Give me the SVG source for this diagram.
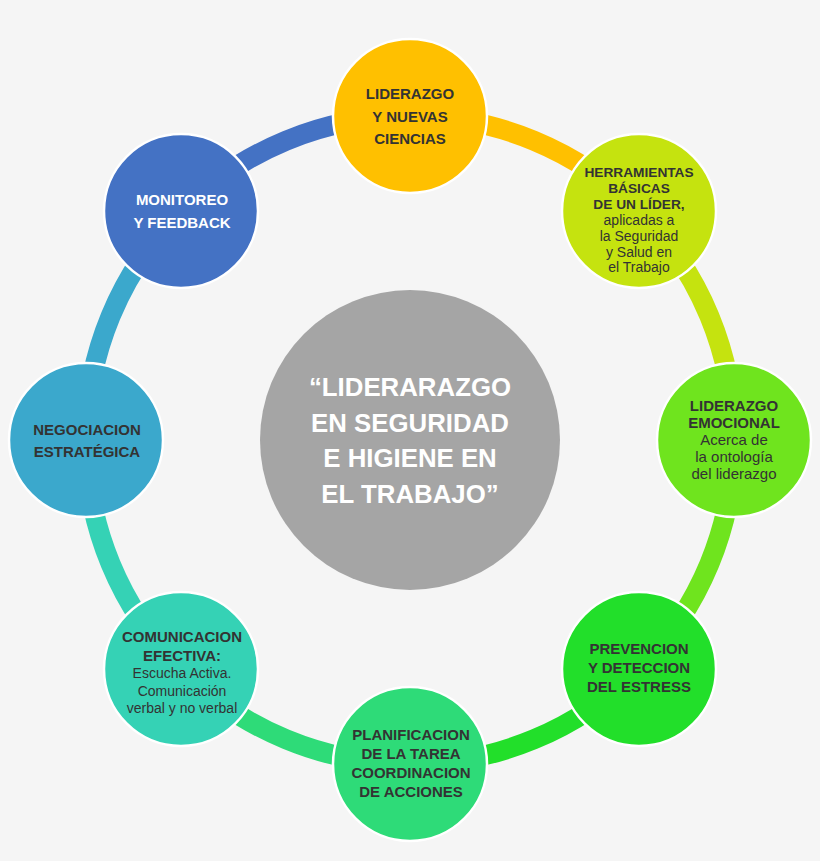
<svg xmlns="http://www.w3.org/2000/svg" width="820" height="861" viewBox="0 0 820 861">
<style>
.arc{fill:none;stroke-width:20;stroke-linecap:butt}
.node{stroke:#ffffff;stroke-width:2.5}
text{font-family:"Liberation Sans",Arial,sans-serif;text-anchor:middle;fill:#333333}
.b{font-weight:bold;font-size:15px}
.b13{font-weight:bold;font-size:13.7px}
.r{font-size:14px}
.r15{font-size:15px}
.w{fill:#ffffff}
.ctr{font-weight:bold;font-size:25.8px;fill:#ffffff}
</style>
<rect x="0" y="0" width="820" height="861" fill="#f5f5f5"/>
<g id="connectors">
<path class="arc" stroke="#ffc000" d="M410,116 A324,324 0 0 1 639.1,210.9"/>
<path class="arc" stroke="#c5e30f" d="M639.1,210.9 A324,324 0 0 1 734,440"/>
<path class="arc" stroke="#6fe41e" d="M734,440 A324,324 0 0 1 639.1,669.1"/>
<path class="arc" stroke="#22df2a" d="M639.1,669.1 A324,324 0 0 1 410,764"/>
<path class="arc" stroke="#2edb78" d="M410,764 A324,324 0 0 1 180.9,669.1"/>
<path class="arc" stroke="#35d2b5" d="M180.9,669.1 A324,324 0 0 1 86,440"/>
<path class="arc" stroke="#3ba8cc" d="M86,440 A324,324 0 0 1 180.9,210.9"/>
<path class="arc" stroke="#4472c4" d="M180.9,210.9 A324,324 0 0 1 410,116"/>
</g>
<g id="center">
<circle cx="410" cy="440" r="150" fill="#a5a5a5"/>
<text class="ctr" x="410" y="396">“LIDERARAZGO</text>
<text class="ctr" x="410" y="432">EN SEGURIDAD</text>
<text class="ctr" x="410" y="467">E HIGIENE EN</text>
<text class="ctr" x="410" y="503">EL TRABAJO”</text>
</g>
<g id="n1">
<circle class="node" cx="410" cy="116" r="77" fill="#ffc000"/>
<text class="b" x="410" y="99">LIDERAZGO</text>
<text class="b" x="410" y="122">Y NUEVAS</text>
<text class="b" x="410" y="144">CIENCIAS</text>
</g>
<g id="n2">
<circle class="node" cx="639" cy="211" r="77" fill="#c5e30f"/>
<text class="b13" x="639" y="177">HERRAMIENTAS</text>
<text class="b13" x="639" y="193">BÁSICAS</text>
<text class="b13" x="639" y="209">DE UN LÍDER,</text>
<text class="r" x="639" y="225">aplicadas a</text>
<text class="r" x="639" y="241">la Seguridad</text>
<text class="r" x="639" y="257">y Salud en</text>
<text class="r" x="639" y="272">el Trabajo</text>
</g>
<g id="n3">
<circle class="node" cx="734" cy="440" r="77" fill="#6fe41e"/>
<text class="b" x="734" y="411">LIDERAZGO</text>
<text class="b" x="734" y="428">EMOCIONAL</text>
<text class="r15" x="734" y="445">Acerca de</text>
<text class="r15" x="734" y="462">la ontología</text>
<text class="r15" x="734" y="479">del liderazgo</text>
</g>
<g id="n4">
<circle class="node" cx="639" cy="669" r="77" fill="#22df2a"/>
<text class="b" x="639" y="654">PREVENCION</text>
<text class="b" x="639" y="673">Y DETECCION</text>
<text class="b" x="639" y="692">DEL ESTRESS</text>
</g>
<g id="n5">
<circle class="node" cx="410" cy="764" r="77" fill="#2edb78"/>
<text class="b" x="411" y="740">PLANIFICACION</text>
<text class="b" x="411" y="759">DE LA TAREA</text>
<text class="b" x="411" y="778">COORDINACION</text>
<text class="b" x="411" y="797">DE ACCIONES</text>
</g>
<g id="n6">
<circle class="node" cx="181" cy="669" r="77" fill="#35d2b5"/>
<text class="b" x="182" y="642">COMUNICACION</text>
<text class="b" x="182" y="661">EFECTIVA:</text>
<text class="r" x="182" y="678">Escucha Activa.</text>
<text class="r" x="182" y="696">Comunicación</text>
<text class="r" x="182" y="713">verbal y no verbal</text>
</g>
<g id="n7">
<circle class="node" cx="86" cy="440" r="77" fill="#3ba8cc"/>
<text class="b" x="87" y="435">NEGOCIACION</text>
<text class="b" x="87" y="457">ESTRATÉGICA</text>
</g>
<g id="n8">
<circle class="node" cx="181" cy="211" r="77" fill="#4472c4"/>
<text class="b w" x="182" y="205">MONITOREO</text>
<text class="b w" x="182" y="228">Y FEEDBACK</text>
</g>
</svg>
